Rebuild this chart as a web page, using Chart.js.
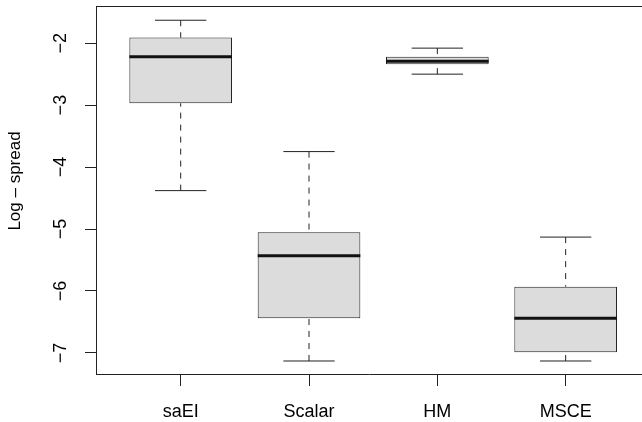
<!DOCTYPE html>
<html>
<head>
<meta charset="utf-8">
<title>Log spread boxplot</title>
<script src="https://cdn.jsdelivr.net/npm/chart.js@4"></script>
<style>
  html, body { margin: 0; padding: 0; background: #fff; }
  #wrap { width: 642px; height: 422px; }
</style>
</head>
<body>
<div id="wrap"><canvas id="boxChart" width="642" height="422"></canvas></div>
<script>
const $ = (id) => document.getElementById(id);

// values
const categories = ["saEI", "Scalar", "HM", "MSCE"];
const whiskerLow = [-4.38, -7.13, -2.50, -7.13];
const lowerQuartile = [-2.97, -6.44, -2.34, -6.99];
const medians = [-2.22, -5.43, -2.29, -6.44];
const upperQuartile = [-1.91, -5.05, -2.22, -5.93];
const whiskerHigh = [-1.63, -3.75, -2.08, -5.13];
const yTicks = [-7, -6, -5, -4, -3, -2];
const yTitle = "Log \u2013 spread";

const FONT = "'Liberation Sans', Arial, Helvetica, sans-serif";
const INK = "#222";
const BOX_HALF = 0.4;     // boxwex 0.8
const STAPLE_HALF = 0.2;  // staple half width

function minus(v) {
  return String(v).replace("-", "\u2212");
}

function boxData() {
  return categories.map((c, i) => ({ x: i + 1, y: [lowerQuartile[i], upperQuartile[i]] }));
}

function whiskerData() {
  const pts = [];
  categories.forEach((c, i) => {
    const x = i + 1;
    pts.push({ x, y: whiskerHigh[i] }, { x, y: upperQuartile[i] }, { x, y: null });
    pts.push({ x, y: whiskerLow[i] }, { x, y: lowerQuartile[i] }, { x, y: null });
  });
  return pts;
}

function stapleData() {
  const pts = [];
  categories.forEach((c, i) => {
    const x = i + 1;
    pts.push({ x: x - STAPLE_HALF, y: whiskerHigh[i] }, { x: x + STAPLE_HALF, y: whiskerHigh[i] }, { x, y: null });
    pts.push({ x: x - STAPLE_HALF, y: whiskerLow[i] }, { x: x + STAPLE_HALF, y: whiskerLow[i] }, { x, y: null });
  });
  return pts;
}

function medianData() {
  const pts = [];
  categories.forEach((c, i) => {
    const x = i + 1;
    pts.push({ x: x - BOX_HALF, y: medians[i] }, { x: x + BOX_HALF, y: medians[i] }, { x, y: null });
  });
  return pts;
}

const lineBase = {
  type: "line",
  pointRadius: 0,
  pointHoverRadius: 0,
  tension: 0,
  fill: false,
  spanGaps: false,
  borderCapStyle: "butt",
};

function rotatedText(ctx, text, x, y) {
  ctx.save();
  ctx.translate(x, y);
  ctx.rotate(-Math.PI / 2);
  ctx.fillText(text, 0, 0);
  ctx.restore();
}

// R style frame top, rotated y tick labels and y title
const framePlugin = {
  id: "frame",
  afterDraw(c) {
    const { ctx, chartArea } = c;
    const y = c.scales.y;
    ctx.save();
    ctx.strokeStyle = INK;
    ctx.lineWidth = 1;
    ctx.beginPath();
    ctx.moveTo(chartArea.left, Math.round(chartArea.top) + 0.5);
    ctx.lineTo(chartArea.right, Math.round(chartArea.top) + 0.5);
    ctx.stroke();

    ctx.fillStyle = "#000";
    ctx.textAlign = "center";
    ctx.textBaseline = "alphabetic";
    ctx.font = `18px ${FONT}`;
    y.ticks.forEach((t) => {
      rotatedText(ctx, minus(t.value), 65.7, y.getPixelForValue(t.value));
    });

    ctx.font = `17px ${FONT}`;
    rotatedText(ctx, yTitle, 19.5, 181);
    ctx.restore();
  },
};

function init() {
  const ctx = $("boxChart").getContext("2d");
  new Chart(ctx, {
    type: "bar",
    data: {
      datasets: [
        {
          ...lineBase,
          label: "median",
          data: medianData(),
          borderColor: "#111",
          borderWidth: 3,
          order: 0,
        },
        {
          ...lineBase,
          label: "staples",
          data: stapleData(),
          borderColor: INK,
          borderWidth: 1,
          order: 1,
        },
        {
          ...lineBase,
          label: "whiskers",
          data: whiskerData(),
          borderColor: INK,
          borderWidth: 1,
          borderDash: [6, 6],
          order: 2,
        },
        {
          label: "box",
          data: boxData(),
          backgroundColor: "#dcdcdc",
          borderColor: INK,
          borderWidth: 1,
          borderSkipped: false,
          barPercentage: 0.8,
          categoryPercentage: 1.0,
          order: 3,
        },
      ],
    },
    options: {
      responsive: false,
      animation: false,
      devicePixelRatio: 1,
      layout: { padding: { top: 6, right: 0, bottom: 0, left: 0 } },
      plugins: {
        legend: { display: false },
        tooltip: { enabled: false },
      },
      scales: {
        x: {
          type: "linear",
          min: 0.34,
          max: 4.595,
          offset: false,
          afterBuildTicks: (s) => { s.ticks = categories.map((c, i) => ({ value: i + 1 })); },
          afterFit: (s) => { s.height = 48; },
          grid: { display: true, offset: false, drawOnChartArea: false, drawTicks: true, tickLength: 12, color: INK },
          border: { display: true, color: INK, width: 1 },
          ticks: {
            color: "#000",
            font: { family: FONT, size: 18 },
            padding: 15,
            maxRotation: 0,
            autoSkip: false,
            callback: (v) => categories[Math.round(v) - 1] || "",
          },
        },
        y: {
          type: "linear",
          min: -7.34,
          max: -1.40,
          afterBuildTicks: (s) => { s.ticks = yTicks.map((v) => ({ value: v })); },
          afterFit: (s) => { s.width = 96; },
          grid: { display: true, drawOnChartArea: false, drawTicks: true, tickLength: 11, color: INK },
          border: { display: true, color: INK, width: 1 },
          ticks: { display: false },
        },
      },
    },
    plugins: [framePlugin],
  });
}

document.addEventListener("DOMContentLoaded", init);
</script>
</body>
</html>
